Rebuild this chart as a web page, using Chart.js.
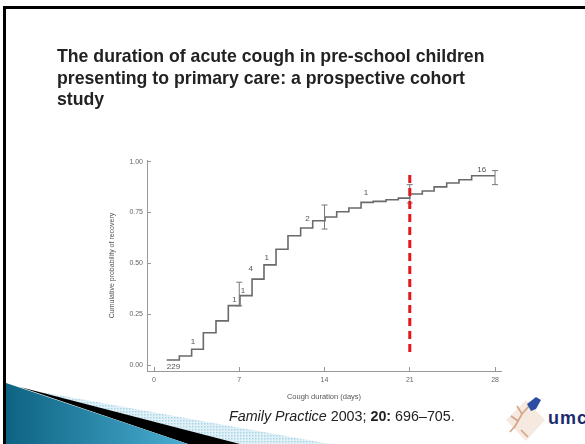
<!DOCTYPE html>
<html>
<head>
<meta charset="utf-8">
<script src="https://cdn.jsdelivr.net/npm/chart.js@4.4.1/dist/chart.umd.min.js"></script>
<style>
html, body { margin: 0; padding: 0; background: #fff; }
#slide { position: relative; width: 585px; height: 444px; overflow: hidden; background: #fff; }
#frame { position: absolute; left: 3px; top: 6px; width: 640px; height: 500px; border-left: 3px solid #000; border-top: 3px solid #000; }
#deco { position: absolute; left: 0; top: 0; }
#chart { position: absolute; left: 0; top: 0; }
#title { position: absolute; left: 57px; top: 46px; font: bold 17.7px/21.5px "Liberation Sans", Arial, sans-serif; color: #222; white-space: nowrap; }
#cite { position: absolute; left: 229px; top: 408px; font: 14.3px/16px "Liberation Sans", Arial, sans-serif; color: #222; white-space: nowrap; }
#cite i { font-style: italic; }
#cite b { font-weight: bold; }
</style>
</head>
<body>
<div id="slide">
  <div id="frame"></div>
  <svg id="deco" width="585" height="444">
    <defs>
      <linearGradient id="teal" x1="0" y1="0" x2="1" y2="0">
        <stop offset="0" stop-color="#0d6382"/>
        <stop offset="1" stop-color="#4aaed2"/>
      </linearGradient>
      <pattern id="dots" width="3" height="3" patternUnits="userSpaceOnUse">
        <rect width="3" height="3" fill="#e2f1f7"/>
        <rect width="1.5" height="1.5" fill="#a8d5e6"/>
      </pattern>
    </defs>
    <polygon points="30,390 330,444 240,444" fill="url(#dots)"/>
    <polygon points="20,387 240,444 188,444" fill="#000"/>
    <polygon points="6,383 188,444 6,444" fill="url(#teal)"/>
    <!-- logo -->
    <polygon points="526,400 545,420 526,441 506,420" fill="#f6e9e0"/>
    <path d="M514,428 L522,414 L529,406 M518,421 L511,416 M522,414 L517,406 M521,430 L528,437 M515,426 L510,432" stroke="#d4a486" stroke-width="1.6" fill="none"/>
    <path d="M527,404 L536,397 L541,400 L536,409 L531,411 Z" fill="#2d4da3"/>
    <text x="548" y="424" font-family="Liberation Sans, Arial, sans-serif" font-weight="bold" font-size="18" letter-spacing="1" fill="#1c2d6e">umc</text>
  </svg>
  <canvas id="chart" width="585" height="444"></canvas>
  <div id="title">The duration of acute cough in pre-school children<br>presenting to primary care: a prospective cohort<br>study</div>
  <div id="cite"><i>Family Practice</i> 2003; <b>20:</b> 696–705.</div>
</div>
<script>
var xTicks = [0, 7, 14, 21, 28]
var yTicks = [0, 0.25, 0.5, 0.75, 1]

// Kaplan-Meier steps: day of each step, level reached there
var stepDays = [1.04, 2.08, 3.09, 4.05, 5.09, 6.1, 7.06, 8.05, 9.03, 10.02, 11.0, 12.04, 13.03, 14.04, 15.0, 16.0, 17.0, 18.0, 19.05, 20.06, 21.0, 22.03, 23.0, 24.03, 25.04, 26.08, 28.0]
var recovery = [0.026, 0.046, 0.079, 0.16, 0.218, 0.293, 0.342, 0.423, 0.493, 0.57, 0.636, 0.674, 0.71, 0.728, 0.754, 0.772, 0.80, 0.805, 0.813, 0.821, 0.841, 0.856, 0.876, 0.895, 0.911, 0.931, 0.931]

// confidence bars
var errDays = [7, 14, 21, 28]
var errLow = [0.292, 0.669, 0.797, 0.887]
var errHigh = [0.408, 0.787, 0.887, 0.956]

// small numbers printed on the curve
var noteDays = [1.6, 3.2, 6.6, 7.3, 7.95, 9.25, 12.6, 17.4, 26.9]
var noteValues = [-0.007, 0.116, 0.321, 0.367, 0.472, 0.526, 0.718, 0.846, 0.96]
var noteTexts = ['229', '1', '1', '1', '4', '1', '2', '1', '16']

// red cut-off line at three weeks
var cutoffDay = 21
var cutoffRange = [0.065, 0.955]

Chart.defaults.font.family = '"Liberation Sans", Arial, sans-serif'

var notePlugin = {
    id: 'notes',
    afterDatasetsDraw: function (chart) {
        var ctx = chart.ctx
        var xs = chart.scales.x
        var ys = chart.scales.y
        ctx.save()
        ctx.font = '8px "Liberation Sans", Arial, sans-serif'
        ctx.fillStyle = '#555'
        ctx.textAlign = 'center'
        ctx.textBaseline = 'middle'
        for (var i = 0; i < noteTexts.length; i++) {
            ctx.fillText(noteTexts[i], xs.getPixelForValue(noteDays[i]), ys.getPixelForValue(noteValues[i]))
        }
        ctx.restore()
    }
}

var datasets = []
datasets.push({
    data: cutoffRange.map(function (v) { return {x: cutoffDay, y: v} }),
    borderColor: '#e8141a',
    borderWidth: 3,
    borderDash: [8, 5],
    pointRadius: 0
})
for (var i = 0; i < errDays.length; i++) {
    datasets.push({
        data: [{x: errDays[i], y: errLow[i]}, {x: errDays[i], y: errHigh[i]}],
        borderColor: '#777',
        borderWidth: 1,
        pointStyle: 'line',
        pointRadius: 3,
        pointBorderColor: '#777',
        pointBorderWidth: 1
    })
}
datasets.push({
    data: stepDays.map(function (d, i) { return {x: d, y: recovery[i]} }),
    stepped: true,
    borderColor: '#6a6a6a',
    borderWidth: 1.6,
    pointRadius: 0
})

var chart = new Chart(document.getElementById('chart').getContext('2d'), {
    type: 'line',
    data: {datasets: datasets},
    plugins: [notePlugin],
    options: {
        responsive: false,
        animation: false,
        devicePixelRatio: 1,
        layout: {padding: {left: 0, top: 160, right: 84, bottom: 0}},
        plugins: {legend: {display: false}, tooltip: {enabled: false}},
        scales: {
            x: {
                type: 'linear',
                min: -0.575,
                max: 28.49,
                afterBuildTicks: function (s) { s.ticks = xTicks.map(function (v) { return {value: v} }) },
                afterFit: function (s) { s.height = 73 },
                border: {color: '#999', width: 1},
                grid: {drawOnChartArea: false, tickLength: -4, tickColor: '#999'},
                ticks: {font: {size: 7}, color: '#666', padding: 9},
                title: {display: true, text: 'Cough duration (days)', font: {size: 7.5}, color: '#555', padding: {top: 0, bottom: 43}}
            },
            y: {
                type: 'linear',
                min: -0.028,
                max: 1.008,
                afterBuildTicks: function (s) { s.ticks = yTicks.map(function (v) { return {value: v} }) },
                afterFit: function (s) { s.width = 147 },
                border: {color: '#999', width: 1},
                grid: {drawOnChartArea: false, tickLength: -4, tickColor: '#999'},
                ticks: {font: {size: 7}, color: '#666', padding: 8, callback: function (v) { return v.toFixed(2) }},
                title: {display: true, text: 'Cumulative probability of recovery', font: {size: 7}, color: '#555', padding: {top: 108, bottom: 0}}
            }
        }
    }
})
</script>
</body>
</html>
